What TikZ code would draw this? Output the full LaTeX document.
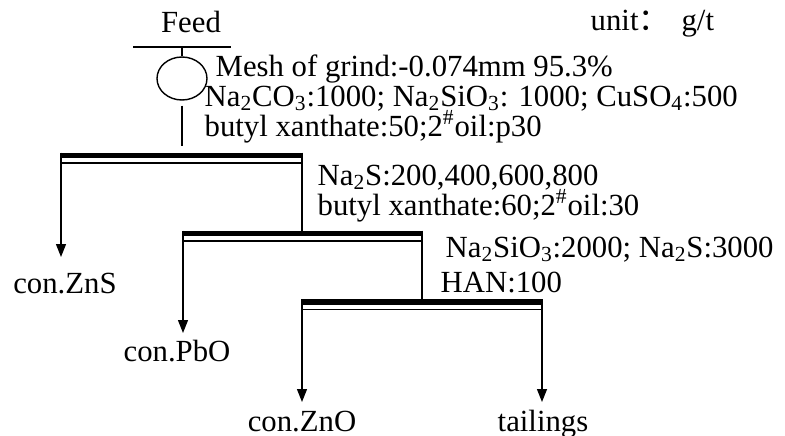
\documentclass[tikz,border=0pt]{standalone}
\usepackage{fontspec}
\setmainfont{Liberation Serif}
\newfontfamily\cjk{Noto Sans CJK SC}
\usetikzlibrary{shapes.geometric, arrows.meta, positioning, calc}

\begin{document}
\begin{tikzpicture}[x=0.02cm, y=-0.02cm, line width=0.8pt,
    txt/.style={anchor=base west, inner sep=0pt, font=\fontsize{17.5}{21}\selectfont},
    prod/.style={anchor=base, inner sep=0pt, font=\fontsize{17.5}{21}\selectfont},
    froth/.style={line width=3.2pt},
    flow/.style={-{Triangle[length=0.26cm,width=0.2cm]}}]
  \useasboundingbox (0,0) rectangle (785,436);

  % feed and grinding
  \node[prod] (feed) at (191,32) {Feed};
  \node[txt] (unit) at (590,31) {unit{\cjk ：}\hspace{0.4em}g/t};
  \coordinate (fl) at (133,47);
  \coordinate (fr) at (231,47);
  \draw (fl) -- (fr);
  \node[draw, ellipse, minimum width=1cm, minimum height=0.86cm, inner sep=0pt] (mill) at (182,78.5) {};
  \draw (mill.north) -- (mill.north |- fl);

  % cells: top left / top right of the froth bar
  \coordinate (c1l) at (61,155.5);  \coordinate (c1r) at (302,155.5);
  \coordinate (c2l) at (183,233.5); \coordinate (c2r) at (422,233.5);
  \coordinate (c3l) at (302,302);   \coordinate (c3r) at (542,302);

  \draw[shorten <=0.1cm, shorten >=0.2cm] (mill.south) -- (mill.south |- c1l);

  \foreach \c in {c1,c2,c3} {
    \draw[froth] (\c l) -- (\c r);
    \draw ($(\c l)+(0,7.5)$) -- ($(\c r)+(0,7.5)$);
  }

  % reagents
  \node[txt] (mesh) at (215,76) {Mesh of grind:-0.074mm 95.3\%};
  \node[txt] (reag1) at (204,106) {Na\textsubscript{2}CO\textsubscript{3}:1000; Na\textsubscript{2}SiO\textsubscript{3}: 1000; CuSO\textsubscript{4}:500};
  \node[txt] (col1) at (204,136) {butyl xanthate:50;2\textsuperscript{\#}oil:p30};
  \node[txt] (reag2) at (317,185) {Na\textsubscript{2}S:200,400,600,800};
  \node[txt] (col2) at (317,215) {butyl xanthate:60;2\textsuperscript{\#}oil:30};
  \node[txt] (reag3) at (445,257) {Na\textsubscript{2}SiO\textsubscript{3}:2000; Na\textsubscript{2}S:3000};
  \node[txt] (han) at (440,292) {HAN:100};

  % products
  \node[prod] (zns) at (65,293) {con.ZnS};
  \node[prod] (pbo) at (177,361) {con.PbO};
  \node[prod] (zno) at (302,431) {con.ZnO};
  \node[prod] (tail) at (543,431) {tailings};
  \coordinate (e1) at (61,257);
  \coordinate (e2) at (183,333);
  \coordinate (e3) at (302,402);
  \coordinate (e4) at (542,402);

  \draw[flow] ($(c1l)+(0,-2.8)$) -- (e1);
  \draw[flow] ($(c2l)+(0,-2.8)$) -- (e2);
  \draw[flow] ($(c3l)+(0,-2.8)$) -- (e3);
  \draw[flow] ($(c3r)+(0,-2.8)$) -- (e4);
  \draw ($(c1r)+(0,-2.8)$) -- (c1r |- c2r);
  \draw ($(c2r)+(0,-2.8)$) -- (c2r |- c3r);

\end{tikzpicture}
\end{document}
